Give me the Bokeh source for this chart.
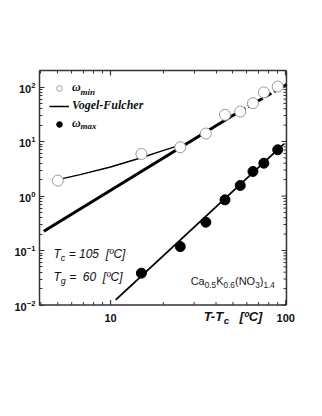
from bokeh.plotting import figure
from bokeh.models import (Label, Legend, LegendItem, LogAxis, FixedTicker, Range1d,
                          NumeralTickFormatter, LogTickFormatter)
from bokeh.core.properties import value
from bokeh.embed import file_html
from bokeh.resources import INLINE

# ---------------- data ----------------
t_min = [5, 15, 25, 35, 45, 55, 65, 75, 90]
w_min = [1.92, 5.9, 7.85, 14.0, 30.9, 35.5, 50.5, 80.0, 102.0]

t_max = [15, 25, 35, 45, 55, 65, 75, 90]
w_max = [0.0384, 0.118, 0.33, 0.85, 1.56, 2.82, 4.0, 7.05]

vf_t = [5, 6.7, 10, 14.8, 19.3, 23, 27]
vf_w = [2.0, 2.47, 3.42, 5.0, 6.6, 7.9, 9.2]

pl_solid_t = [4.16, 48.5]
pl_solid_w = [0.226, 28.5]
pl_dash_t = [48.5, 101]
pl_dash_w = [28.5, 111]

fit_t = [10.7, 97.7]
fit_w = [0.0124, 9.08]

x_major = [10, 100]
x_major_labels = ["10", "100"]
x_minor = [4, 5, 6, 7, 8, 9, 20, 30, 40, 50, 60, 70, 80, 90]
y_major = [0.01, 0.1, 1, 10, 100]
y_minor = [m * d for d in [0.01, 0.1, 1, 10, 100] for m in range(2, 10)]

# plotted box (the frame is extended below/right of it to host the x-axis texts)
X0, X1 = 3.93, 101.0
Y0, Y1 = 0.01, 201.0
DEC = 54.5      # px per decade on y
XDEC = 175.0    # px per decade on x
Y_LOW = Y0 / 10 ** (27.5 / DEC)
X_HIGH = X1 * 10 ** (16 / XDEC)

# ---------------- figure ----------------
p = figure(width=314, height=340, x_axis_type="log", y_axis_type="log",
           x_axis_location=None,
           x_range=Range1d(X0, X_HIGH), y_range=Range1d(Y_LOW, Y1),
           output_backend="svg", toolbar_location=None,
           min_border_left=39, min_border_right=12, min_border_top=70,
           min_border_bottom=8)
p.grid.visible = False
p.outline_line_alpha = 0
p.background_fill_color = "white"
p.border_fill_color = "white"

FONT = "Liberation Sans"
AX = "#333333"


def style_axis(ax, show_labels=True):
    ax.axis_line_color = AX
    ax.axis_line_width = 1.5
    ax.major_tick_in = 5
    ax.major_tick_out = 0
    ax.minor_tick_in = 3
    ax.minor_tick_out = 0
    ax.major_tick_line_color = AX
    ax.minor_tick_line_color = AX
    ax.major_tick_line_width = 1.2
    ax.minor_tick_line_width = 1
    ax.major_label_text_font = FONT
    ax.major_label_text_font_style = "bold"
    ax.major_label_text_font_size = "11px"
    ax.major_label_text_color = "#111111"
    if not show_labels:
        ax.major_label_text_font_size = "2px"
        ax.major_label_text_alpha = 0
        ax.major_label_standoff = 0


yl = p.yaxis[0]
yl.ticker = FixedTicker(ticks=y_major, minor_ticks=y_minor)
yl.formatter = LogTickFormatter()
yl.bounds = (Y0, Y1)
style_axis(yl)
yl.major_label_standoff = 4

xt = LogAxis(ticker=FixedTicker(ticks=x_major, minor_ticks=x_minor),
             formatter=NumeralTickFormatter(format="0"), bounds=(X0, X1))
style_axis(xt, show_labels=False)
p.add_layout(xt, "above")

# bottom edge of the box with its inward ticks
p.line([X0, X1], [Y0, Y0], line_color=AX, line_width=1.5)
p.segment(x0=x_major, y0=[Y0] * len(x_major), x1=x_major,
          y1=[Y0 * 10 ** (5 / DEC)] * len(x_major), line_color=AX, line_width=1.2)
p.segment(x0=x_minor, y0=[Y0] * len(x_minor), x1=x_minor,
          y1=[Y0 * 10 ** (3 / DEC)] * len(x_minor), line_color=AX, line_width=1)
p.text(x=x_major, y=[Y0 / 10 ** (12.5 / DEC)] * len(x_major), text=x_major_labels,
       text_font=value(FONT), text_font_style="bold", text_font_size="11px",
       text_align="center", text_baseline="middle", text_color="#111111")

# right edge of the box with its inward ticks
p.line([X1, X1], [Y0, Y1], line_color=AX, line_width=1.5)
p.segment(x0=[X1] * len(y_major), y0=y_major, x1=[X1 / 10 ** (5 / XDEC)] * len(y_major),
          y1=y_major, line_color=AX, line_width=1.2)
p.segment(x0=[X1] * len(y_minor), y0=y_minor, x1=[X1 / 10 ** (3 / XDEC)] * len(y_minor),
          y1=y_minor, line_color=AX, line_width=1)

# ---------------- glyphs ----------------
p.line(pl_solid_t, pl_solid_w, line_color="black", line_width=3)
p.line(pl_dash_t, pl_dash_w, line_color="black", line_width=3, line_dash="7 3")
r_vf = p.line(vf_t, vf_w, line_color="black", line_width=1.5)
p.line(fit_t, fit_w, line_color="black", line_width=1.8)
r_min = p.scatter(t_min, w_min, size=11, marker="circle", fill_color="white",
                  line_color="#999999", line_width=1)
r_max = p.scatter(t_max, w_max, size=10, marker="circle", fill_color="black",
                  line_color="black")

legend = Legend(items=[LegendItem(label="\u03c9", renderers=[r_min]),
                       LegendItem(label="Vogel-Fulcher", renderers=[r_vf]),
                       LegendItem(label="\u03c9", renderers=[r_max])],
                location="top_left", border_line_alpha=0, background_fill_alpha=0,
                margin=5, padding=5, spacing=3, glyph_width=20, glyph_height=14,
                label_height=14, label_standoff=3,
                label_text_font="Liberation Serif", label_text_font_style="bold italic",
                label_text_font_size="12px", label_text_color="#111111")
p.add_layout(legend)


# ---------------- annotations ----------------
def px2x(px):
    return 10 ** (1 + (px - 110) / XDEC)


def py2y(py):
    return 10 ** (2 - (py - 86.5) / DEC)


W = {'0': 556, '1': 556, '2': 556, '3': 556, '4': 556, '5': 556, '6': 556, '7': 556,
     '8': 556, '9': 556, '.': 278, ' ': 278, '=': 584, '[': 278, ']': 278,
     '(': 333, ')': 333, 'C': 722, 'a': 556, 'K': 667, 'N': 722, 'O': 778, 'T': 611,
     '-': 333, 'c': 500, 'g': 556, '\u00ba': 365, 'm': 833, 'i': 222, 'n': 556, 'x': 500}


def width(s, size):
    return sum(W.get(ch, 556) for ch in s) * size / 1000.0


def rich(x_px, y_px, parts, size, style, color="#111111", font=FONT, sub=0.75):
    off = 0.0
    for txt, kind in parts:
        fs = size if kind == "n" else size * sub
        dy = 0 if kind == "n" else (-4 if kind == "sub" else 4)
        p.add_layout(Label(x=px2x(x_px), y=py2y(y_px), x_offset=off, y_offset=dy,
                           text=txt.replace(" ", "\u00a0"), text_font=font,
                           text_font_style=style, text_font_size=f"{fs:.1f}px",
                           text_baseline="middle", text_align="left",
                           text_color=color))
        off += width(txt, fs)


rich(53, 253, [("T", "n"), ("c", "sub"), (" = 105  [\u00baC]", "n")], 12, "italic")
rich(53, 276, [("T", "n"), ("g", "sub"), (" =  60  [\u00baC]", "n")], 12, "italic")
rich(190, 280, [("Ca", "n"), ("0.5", "sub"), ("K", "n"), ("0.6", "sub"), ("(NO", "n"),
                ("3", "sub"), (")", "n"), ("1.4", "sub")], 11, "normal", "#222222")
rich(80, 91, [("min", "n")], 9, "bold italic", font="Liberation Serif")
rich(80, 125, [("max", "n")], 9, "bold italic", font="Liberation Serif")
rich(203, 316, [("T-T", "n"), ("c", "sub"), ("   [\u00baC]", "n")], 13, "bold italic")

open("out.html", "w").write(file_html(p, INLINE))
